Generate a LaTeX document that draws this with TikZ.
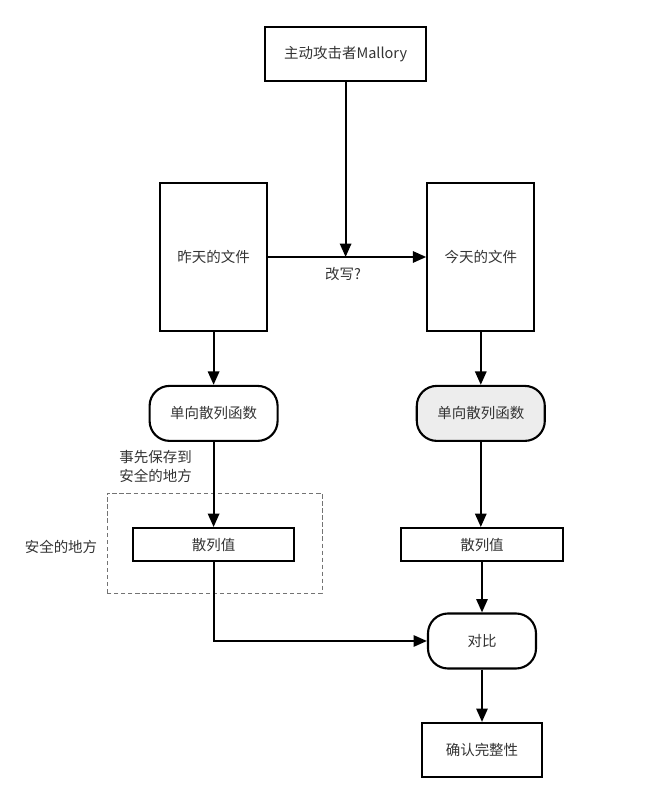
\documentclass[tikz,border=0pt]{standalone}
\usepackage{fontspec}
\setmainfont{Noto Sans CJK SC}
\usetikzlibrary{arrows.meta}

\tikzset{
  box/.style={draw, line width=1.5pt, minimum width=#1, inner sep=0pt},
  box/.default=4cm,
  roundbox/.style={draw, line width=1.5pt, rounded corners=0.5cm,
    minimum height=1.375cm, inner sep=0pt},
  flow/.style={line width=1.5pt, -{Triangle[length=9.5pt, width=8pt]}},
}

\begin{document}
\begin{tikzpicture}[x=1cm, y=1cm, font=\fontsize{10.3}{13.5}\selectfont, text=black!80]

    %% =========================================================
    %% canvas: 16.55 x 19.675
    %% left column x = 5.34, right column x = 12.04
    %% =========================================================
    \useasboundingbox (0,0) rectangle (16.55,19.675);

    %% ATTACKER
    \node[box=4.02cm, minimum height=1.35cm] (mallory) at (8.64,18.325) {主动攻击者Mallory};

    %% FILES
    \node[box=2.675cm, minimum height=3.7cm] (oldfile) at (5.34,13.25) {昨天的文件};
    \node[box=2.675cm, minimum height=3.7cm] (newfile) at (12.02,13.25) {今天的文件};

    %% HASH FUNCTIONS
    \node[roundbox, minimum width=3.2cm] (oldhash) at (5.34,9.34) {单向散列函数};
    \node[roundbox, minimum width=3.2cm, fill=black!7] (newhash) at (12.02,9.34) {单向散列函数};

    %% SAFE PLACE
    \draw[black!55, line width=0.6pt, densely dashed] (2.675,4.85) rectangle (8.05,7.35);
    \node (safe) at (1.525,6.0) {安全的地方};
    \node[align=center] (note) at (3.89,8.0) {事先保存到\\安全的地方};

    %% HASH VALUES
    \node[box=4.03cm, minimum height=0.825cm] (oldval) at (5.34,6.06) {散列值};
    \node[box=4.03cm, minimum height=0.825cm] (newval) at (12.05,6.06) {散列值};

    %% COMPARE
    \node[roundbox, minimum width=2.7cm] (cmp) at (12.05,3.65) {对比};
    \node[box=3.0cm, minimum height=1.35cm] (ok) at (12.05,0.925) {确认完整性};

    %% ARROWS
    \coordinate (hit) at (mallory.south |- oldfile.east);
    \draw[flow] (oldfile.east) -- (newfile.west);
    \draw[flow] (mallory.south) -- (hit);
    \node (rewrite) at (8.575,12.825) {改写?};

    \draw[flow] (oldfile.south) -- (oldhash.north);
    \draw[flow] (oldhash.south) -- (oldval.north);
    \draw[flow] (oldval.south) |- (cmp.west);

    \draw[flow] (newfile.south) -- (newhash.north);
    \draw[flow] (newhash.south) -- (newhash.south |- newval.north);
    \draw[flow] (newval.south) -- (cmp.north);
    \draw[flow] (cmp.south) -- (ok.north);

\end{tikzpicture}
\end{document}
